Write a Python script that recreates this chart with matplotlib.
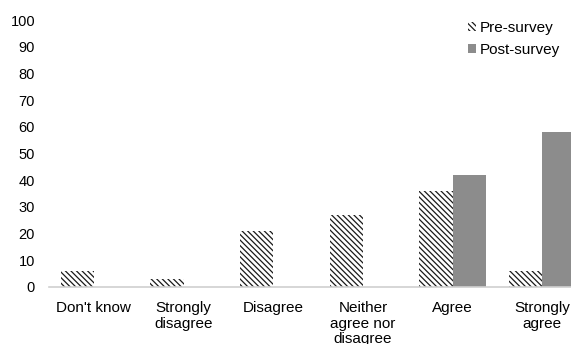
import matplotlib
matplotlib.use("Agg")
import matplotlib.pyplot as plt
import numpy as np

plt.rcParams['font.family'] = ['Liberation Sans', 'DejaVu Sans']
plt.rcParams['hatch.linewidth'] = 0.9

categories = ["Don't know", "Strongly\ndisagree", "Disagree",
              "Neither\nagree nor\ndisagree", "Agree", "Strongly\nagree"]
pre_survey = [6, 3, 21, 27, 36, 6]
post_survey = [0, 0, 0, 0, 42, 58]
y_ticks = [0, 10, 20, 30, 40, 50, 60, 70, 80, 90, 100]

W, H = 571, 344
fig = plt.figure(figsize=(W / 100, H / 100), dpi=100)
left = 49 / W
width = (6 * 89.7) / W
bottom = (H - 287) / H
top = (H - 20) / H
ax = fig.add_axes([left, bottom, width, top - bottom])

x = np.arange(len(categories))
bw = 0.37
ax.bar(x - bw / 2, pre_survey, bw, color='white', edgecolor='#1a1a1a',
       hatch='\\' * 6, linewidth=0, label='Pre-survey')
ax.bar(x + bw / 2, post_survey, bw, color='#8c8c8c', linewidth=0,
       label='Post-survey')

ax.set_xlim(-0.5, len(categories) - 0.5)
ax.set_ylim(0, 100)
ax.set_yticks(y_ticks)
ax.set_xticks(x)
ax.set_xticklabels(categories, fontsize=11, linespacing=1.15)
ax.tick_params(axis='y', length=0, pad=10, labelsize=10.5)
ax.tick_params(axis='x', length=0, pad=10)
for s in ['top', 'right', 'left']:
    ax.spines[s].set_visible(False)
ax.spines['bottom'].set_color('#d0d0d0')
ax.spines['bottom'].set_linewidth(1.2)

leg = fig.legend(loc='upper left', bbox_to_anchor=(468 / W, 1 - 21 / H),
                 frameon=False, fontsize=11, handlelength=0.55,
                 handleheight=0.55, handletextpad=0.25, labelspacing=0.5,
                 borderaxespad=0, borderpad=0)

fig.savefig('out.png', dpi=100)
